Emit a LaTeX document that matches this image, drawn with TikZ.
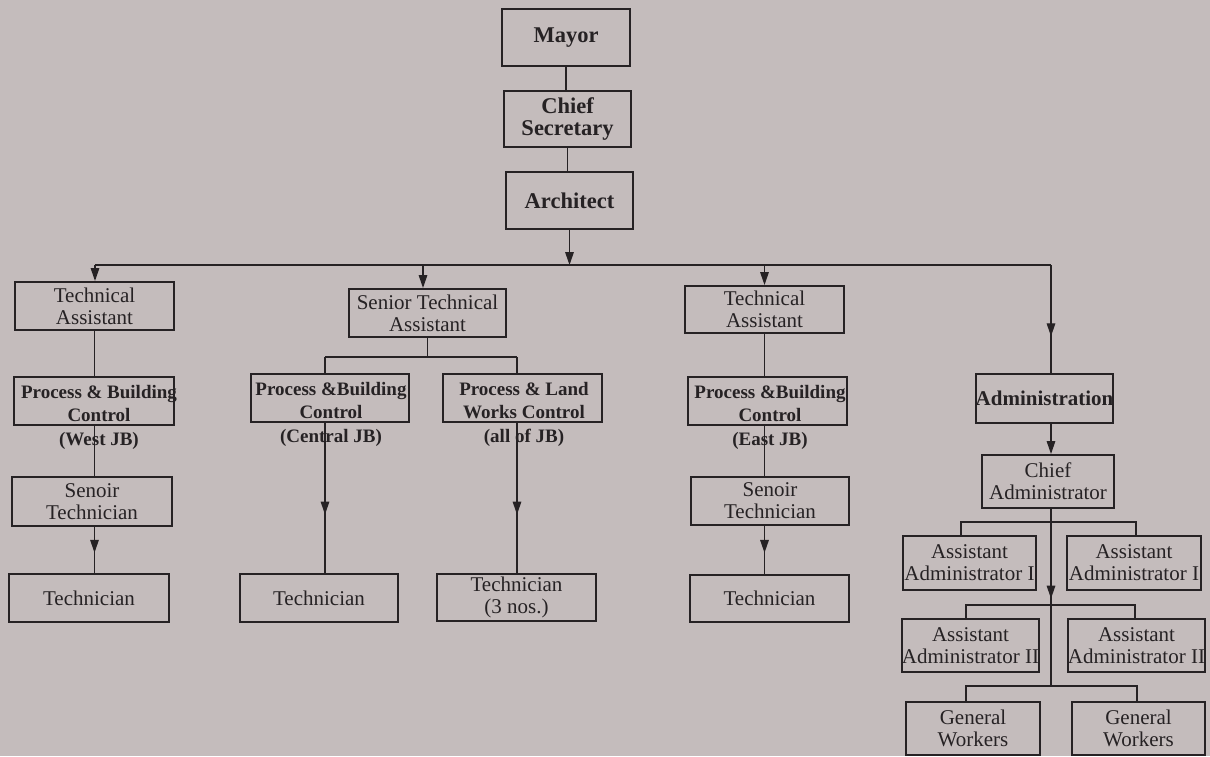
\documentclass[tikz,border=0pt]{standalone}
\usepackage{fontspec}
\setmainfont{Liberation Serif}
\usetikzlibrary{arrows.meta,decorations.markings}
\definecolor{paper}{RGB}{196,188,188}
\definecolor{ink}{RGB}{38,34,36}
\newcommand\orgTop{\fontsize{11.25}{11}\selectfont\bfseries}
\newcommand\orgReg{\fontsize{10.5}{11}\selectfont}
\newcommand\orgAdm{\fontsize{10.5}{11}\selectfont\bfseries}
\newcommand\orgProc{\fontsize{9.5}{11.75}\selectfont\bfseries}
\begin{document}
\begin{tikzpicture}[x=0.5pt,y=-0.5pt,
  box/.style 2 args={draw=ink, line width=1pt, inner sep=0pt,
    minimum width=#1*0.5pt, minimum height=#2*0.5pt, align=center, text=ink},
  txt/.style={inner sep=0pt, align=center, text=ink},
  conn/.style={draw=ink, color=ink, line width=0.65pt},
  tip/.tip={Triangle[width=4.3pt,length=6.5pt]},
  arr/.style={conn, -tip},
  midarr/.style={conn, postaction={decorate},
    decoration={markings, mark=at position #1 with {\arrow{tip}}}}]

% paper
\fill[paper] (0,0) rectangle (1210,756);
\useasboundingbox (0,0) rectangle (1210,756);

% top of the hierarchy
\node[box={128}{57}, font=\orgTop] (mayor) at (566,37.5) {Mayor};
\node[box={127}{56}, font=\orgTop] (chief) at (567.5,119) {Chief\\Secretary};
\node[box={127}{57}, font=\orgTop] (arch)  at (569.5,200.5) {Architect};

% second level
\node[box={159}{48}, font=\orgReg] (taw)   at (94.5,306)   {Technical\\Assistant};
\node[box={157}{48}, font=\orgReg] (sta)   at (427.5,313)  {Senior Technical\\Assistant};
\node[box={159}{47}, font=\orgReg] (tae)   at (764.5,309.5) {Technical\\Assistant};
\node[box={135}{49}, font=\orgAdm] (admin) at (1044.5,398.5) {Administration};

% process & control units
\node[box={160}{48}] (pbcw) at (94,401) {};
\node[txt, font=\orgProc] (pbcw-t) at (99,417) {Process \& Building\\Control\\(West JB)};
\node[box={158}{48}] (pbcc) at (330,398) {};
\node[txt, font=\orgProc] (pbcc-t) at (331,414) {Process \&Building\\Control\\(Central JB)};
\node[box={159}{48}] (plw) at (522.5,398) {};
\node[txt, font=\orgProc] (plw-t) at (524,414) {Process \& Land\\Works Control\\(all of JB)};
\node[box={159}{48}] (pbce) at (767.5,401) {};
\node[txt, font=\orgProc] (pbce-t) at (770,417) {Process \&Building\\Control\\(East JB)};

% technicians
\node[box={160}{49}, font=\orgReg] (stw)   at (92,501.5)   {Senoir\\Technician};
\node[box={158}{48}, font=\orgReg] (ste)   at (770,501)    {Senoir\\Technician};
\node[box={160}{48}, font=\orgReg] (techw) at (89,598)     {Technician};
\node[box={158}{48}, font=\orgReg] (techc) at (319,598)    {Technician};
\node[box={159}{47}, font=\orgReg] (tech3) at (516.5,597.5) {Technician\\(3 nos.)};
\node[box={159}{47}, font=\orgReg] (teche) at (769.5,598.5) {Technician};

% administration branch
\node[box={132}{53}, font=\orgReg] (cadm) at (1048,481.5)  {Chief\\Administrator};
\node[box={133}{54}, font=\orgReg] (aa1l) at (969.5,563)   {Assistant\\Administrator I};
\node[box={134}{54}, font=\orgReg] (aa1r) at (1134,563)    {Assistant\\Administrator I};
\node[box={133}{53}, font=\orgReg] (aa2l) at (970.5,645.5) {Assistant\\Administrator II};
\node[box={133}{53}, font=\orgReg] (aa2r) at (1136.5,645.5) {Assistant\\Administrator II};
\node[box={134}{53}, font=\orgReg] (gwl)  at (973,728.5)   {General\\Workers};
\node[box={133}{53}, font=\orgReg] (gwr)  at (1138.5,728.5) {General\\Workers};

% junction points
\coordinate (busL) at (95,265);
\coordinate (busR) at (1051,265);
\coordinate (d2)   at (423,265);
\coordinate (cj)   at (325,357);
\coordinate (lj)   at (517,357);
\coordinate (b1l)  at (961,522);
\coordinate (b1r)  at (1136,522);
\coordinate (b2l)  at (966,605);
\coordinate (b2r)  at (1135,605);
\coordinate (b3l)  at (966,686);
\coordinate (b3r)  at (1137,686);
\coordinate (t3)   at (1051,686);

% chain of command
\draw[conn] (mayor.south) -- (mayor.south |- chief.north);
\draw[conn] (chief.south) -- (chief.south |- arch.north);
\draw[arr]  (arch.south) -- (arch.south |- busL);
\draw[conn] (busL) -- (busR);
\draw[arr]  (busL) -- (busL |- taw.north);
\draw[arr]  (d2) -- (d2 |- sta.north);
\draw[arr]  (tae.north |- busL) -- (tae.north);
\draw[midarr=0.66] (busR) -- (busR |- admin.north);

% west branch
\draw[conn] (taw.south) -- (taw.south |- pbcw.north);
\draw[conn] (taw.south |- pbcw.south) -- (taw.south |- stw.north);
\draw[midarr=0.56] (taw.south |- stw.south) -- (taw.south |- techw.north);

% central branch
\draw[conn] (sta.south) -- (sta.south |- cj);
\draw[conn] (cj) -- (lj);
\draw[conn] (cj) -- (cj |- pbcc.north);
\draw[conn] (lj) -- (lj |- plw.north);
\draw[midarr=0.61] (cj |- pbcc.south) -- (cj |- techc.north);
\draw[midarr=0.61] (lj |- plw.south) -- (lj |- tech3.north);

% east branch
\draw[conn] (tae.south) -- (tae.south |- pbce.north);
\draw[conn] (tae.south |- pbce.south) -- (tae.south |- ste.north);
\draw[midarr=0.56] (tae.south |- ste.south) -- (tae.south |- teche.north);

% administration branch
\draw[arr] (busR |- admin.south) -- (busR |- cadm.north);
\draw[midarr=0.506] (busR |- cadm.south) -- (t3);
\draw[conn] (b1l |- aa1l.north) -- (b1l) -- (b1r) -- (b1r |- aa1r.north);
\draw[conn] (b2l |- aa2l.north) -- (b2l) -- (b2r) -- (b2r |- aa2r.north);
\draw[conn] (b3l |- gwl.north) -- (b3l) -- (b3r) -- (b3r |- gwr.north);
\end{tikzpicture}
\end{document}
